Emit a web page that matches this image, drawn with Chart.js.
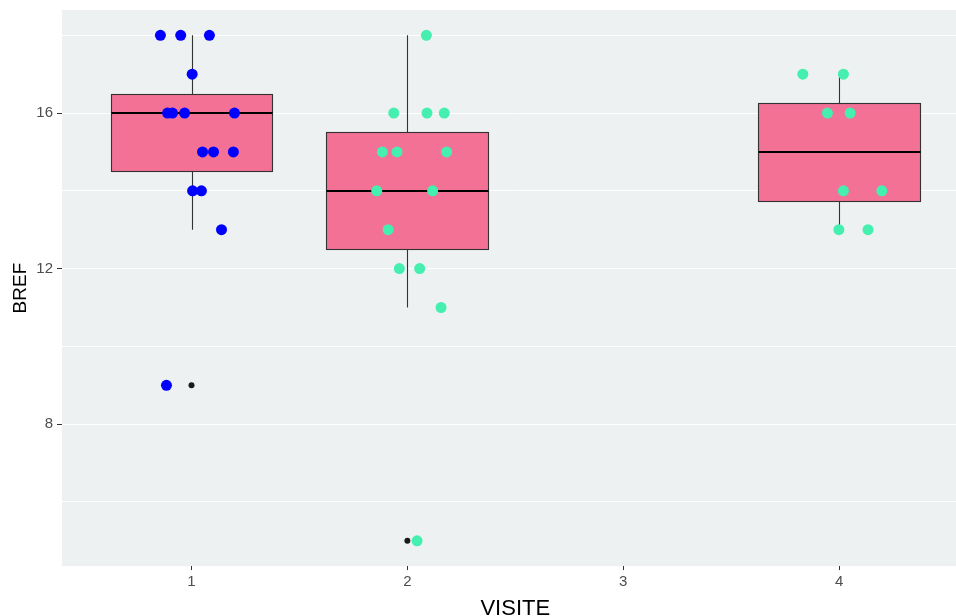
<!DOCTYPE html>
<html>
<head>
<meta charset="utf-8">
<script src="https://cdn.jsdelivr.net/npm/chart.js@4.4.1/dist/chart.umd.min.js"></script>
<style>
  html, body { margin: 0; padding: 0; background: #fff; overflow: hidden; }
</style>
</head>
<body>
<canvas id="myChart" width="975" height="630"></canvas>
<script>
// box statistics per visit
const visits = [1, 2, 4];
const whiskerLow = [13, 11, 13];
const boxLow = [14.5, 12.5, 13.75];
const medians = [16, 14, 15];
const boxHigh = [16.5, 15.5, 16.25];
const whiskerHigh = [18, 18, 17];
const outlierX = [1, 2];
const outlierY = [9, 5];

// jittered points
const visit1X = [0.856, 0.95, 1.083, 1.003, 0.889, 0.912, 0.968, 1.199, 1.051, 1.102, 1.194, 1.005, 1.046, 1.139, 0.884];
const visit1Y = [18, 18, 18, 17, 16, 16, 16, 16, 15, 15, 15, 14, 14, 13, 9];
const visit2X = [2.088, 1.937, 2.091, 2.171, 1.884, 1.952, 2.182, 1.858, 2.117, 1.911, 1.963, 2.057, 2.156, 2.045];
const visit2Y = [18, 16, 16, 16, 15, 15, 15, 14, 14, 13, 12, 12, 11, 5];
const visit4X = [3.832, 4.02, 3.946, 4.051, 4.02, 4.198, 3.999, 4.134];
const visit4Y = [17, 17, 16, 16, 14, 14, 13, 13];

const xTicks = [1, 2, 3, 4];
const yTicks = [6, 8, 10, 12, 14, 16, 18];
const yLabels = [8, 12, 16];

const toPoints = (xs, ys) => xs.map((x, i) => ({ x: x, y: ys[i] }));

// panel background
const panelBg = {
    id: 'panelBg',
    beforeDraw(chart) {
        const a = chart.chartArea;
        const c = chart.ctx;
        c.save();
        c.fillStyle = '#EEF1F2';
        c.fillRect(a.left, a.top, a.right - a.left, a.bottom - a.top);
        c.restore();
    }
};

// boxes, drawn under the points
const boxes = {
    id: 'boxes',
    beforeDatasetsDraw(chart) {
        const c = chart.ctx;
        const xs = chart.scales.x;
        const ys = chart.scales.y;
        c.save();
        visits.forEach((v, i) => {
            const xc = Math.round(xs.getPixelForValue(v)) + 0.5;
            const x0 = Math.round(xs.getPixelForValue(v - 0.375)) + 0.5;
            const x1 = Math.round(xs.getPixelForValue(v + 0.375)) + 0.5;
            const yq1 = Math.round(ys.getPixelForValue(boxLow[i])) + 0.5;
            const yq3 = Math.round(ys.getPixelForValue(boxHigh[i])) + 0.5;
            // whiskers
            c.strokeStyle = '#333333';
            c.lineWidth = 1.1;
            c.beginPath();
            c.moveTo(xc, ys.getPixelForValue(whiskerHigh[i]));
            c.lineTo(xc, yq3);
            c.moveTo(xc, yq1);
            c.lineTo(xc, ys.getPixelForValue(whiskerLow[i]));
            c.stroke();
            // box
            c.fillStyle = '#F37195';
            c.fillRect(x0, yq3, x1 - x0, yq1 - yq3);
            c.strokeRect(x0, yq3, x1 - x0, yq1 - yq3);
            // median
            c.strokeStyle = '#000000';
            c.lineWidth = 2;
            c.beginPath();
            const ym = Math.round(ys.getPixelForValue(medians[i]));
            c.moveTo(x0, ym);
            c.lineTo(x1, ym);
            c.stroke();
        });
        c.restore();
    }
};

const ctx = document.getElementById('myChart');

new Chart(ctx, {
    type: 'scatter',
    data: {
        datasets: [
            {
                label: 'Visite 1',
                data: toPoints(visit1X, visit1Y),
                backgroundColor: '#0000FF',
                borderWidth: 0,
                pointRadius: 5.5
            },
            {
                label: 'Visite 2',
                data: toPoints(visit2X, visit2Y),
                backgroundColor: '#44EFB0',
                borderWidth: 0,
                pointRadius: 5.5
            },
            {
                label: 'Visite 4',
                data: toPoints(visit4X, visit4Y),
                backgroundColor: '#44EFB0',
                borderWidth: 0,
                pointRadius: 5.5
            },
            {
                label: 'Outliers',
                data: toPoints(outlierX, outlierY),
                backgroundColor: '#1A1A1A',
                borderWidth: 0,
                pointRadius: 3
            }
        ]
    },
    options: {
        responsive: false,
        animation: false,
        layout: {
            padding: { left: 4.6, right: 6.4, top: 10, bottom: 7.5 }
        },
        plugins: {
            legend: { display: false },
            tooltip: { enabled: false }
        },
        scales: {
            x: {
                type: 'linear',
                min: 0.4,
                max: 4.6,
                afterBuildTicks: (axis) => { axis.ticks = xTicks.map(v => ({ value: v })); },
                ticks: {
                    autoSkip: false,
                    maxRotation: 0,
                    padding: 3,
                    color: '#4D4D4D',
                    font: { family: 'Liberation Sans, Arial, sans-serif', size: 15 }
                },
                grid: {
                    drawOnChartArea: false,
                    tickLength: 4,
                    tickColor: '#333333'
                },
                border: { display: false },
                title: {
                    display: true,
                    text: 'VISITE',
                    color: '#000000',
                    font: { family: 'Liberation Sans, Arial, sans-serif', size: 22 },
                    padding: { top: 2, bottom: 0 }
                }
            },
            y: {
                type: 'linear',
                min: 4.35,
                max: 18.65,
                afterBuildTicks: (axis) => { axis.ticks = yTicks.map(v => ({ value: v })); },
                afterFit: (axis) => { axis.paddingTop = 0; axis.paddingBottom = 0; },
                ticks: {
                    autoSkip: false,
                    padding: 4,
                    color: '#4D4D4D',
                    font: { family: 'Liberation Sans, Arial, sans-serif', size: 15 },
                    callback: (v) => yLabels.includes(v) ? String(v) : ''
                },
                grid: {
                    color: '#FFFFFF',
                    lineWidth: 1,
                    tickLength: 5,
                    tickColor: (c) => (c.tick && yLabels.includes(c.tick.value)) ? '#333333' : 'rgba(0,0,0,0)'
                },
                border: { display: false },
                title: {
                    display: true,
                    text: 'BREF',
                    color: '#000000',
                    font: { family: 'Liberation Sans, Arial, sans-serif', size: 19 },
                    padding: { top: 4.9, bottom: 0 }
                }
            }
        }
    },
    plugins: [panelBg, boxes]
});
</script>
</body>
</html>
